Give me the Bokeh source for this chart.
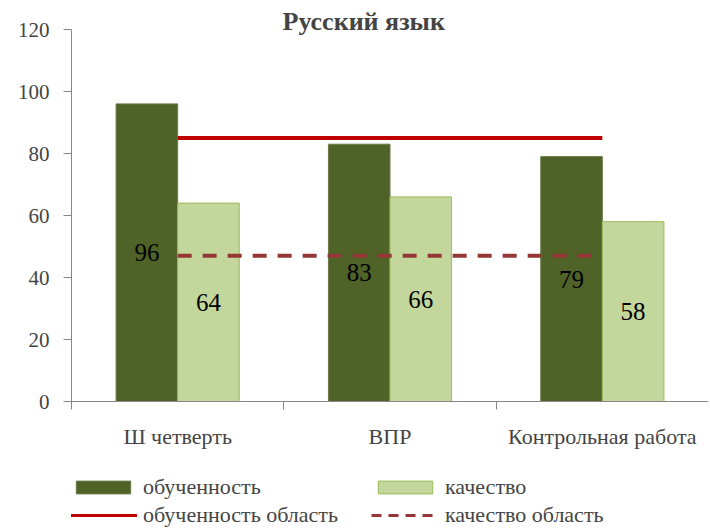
from bokeh.plotting import figure
from bokeh.layouts import column
from bokeh.models import Range1d, FixedTicker, Legend, LegendItem, ColumnDataSource
from bokeh.core.properties import value
from bokeh.embed import file_html
from bokeh.resources import INLINE

categories = ["Ш четверть", "ВПР", "Контрольная работа"]
obuchennost = [96, 83, 79]
kachestvo = [64, 66, 58]
obuchennost_oblast = [85, 85, 85]
kachestvo_oblast = [47, 47, 47]
y_ticks = [0, 20, 40, 60, 80, 100, 120]
series_names = ["обученность", "качество", "обученность область", "качество область"]

FONT = "Liberation Serif"
DARK = "#4F6228"
LIGHT = "#C3D69B"
RED = "#C00000"
DRED = "#953735"

n = len(categories)
centers = [i + 0.5 for i in range(n)]
bw = 0.29
off = 0.145

src = ColumnDataSource(dict(
    x1=[c - off for c in centers],
    x2=[c + off for c in centers],
    xc=centers,
    ob=obuchennost,
    ka=kachestvo,
    ob_half=[v / 2 for v in obuchennost],
    ka_half=[v / 2 for v in kachestvo],
    ob_txt=[str(v) for v in obuchennost],
    ka_txt=[str(v) for v in kachestvo],
    obr=obuchennost_oblast,
    kar=kachestvo_oblast,
))

p = figure(width=708, height=470, output_backend="svg", toolbar_location=None,
           x_range=Range1d(0, n), y_range=Range1d(0, 120),
           min_border_left=71, min_border_right=0, min_border_top=29, min_border_bottom=69)
p.outline_line_color = None
p.xgrid.grid_line_color = None
p.ygrid.grid_line_color = None

p.title.text = "Русский язык"
p.title.text_font = FONT
p.title.text_font_size = "26px"
p.title.text_font_style = "bold"
p.title.align = "left"
p.title.offset = 211
p.title.standoff = -13

p.vbar(x="x1", top="ob", width=bw, source=src, fill_color=DARK, line_color="#6a7c48", line_width=1)
p.vbar(x="x2", top="ka", width=bw, source=src, fill_color=LIGHT, line_color="#9BBB59", line_width=1)
p.line(x="xc", y="obr", source=src, line_color=RED, line_width=4)
p.line(x="xc", y="kar", source=src, line_color=DRED, line_width=4, line_dash="14 11")

p.text(x="x1", y="ob_half", text="ob_txt", source=src, text_align="center", text_baseline="middle",
       text_font=value(FONT), text_font_size="25px", text_color="black")
p.text(x="x2", y="ka_half", text="ka_txt", source=src, text_align="center", text_baseline="middle",
       text_font=value(FONT), text_font_size="25px", text_color="black")

ya = p.yaxis[0]
ya.ticker = FixedTicker(ticks=y_ticks, minor_ticks=[])
ya.axis_line_color = "#868686"
ya.major_tick_line_color = "#868686"
ya.major_tick_out = 8
ya.major_tick_in = 0
ya.minor_tick_line_color = None
ya.major_label_text_font = FONT
ya.major_label_text_font_size = "21px"
ya.major_label_standoff = 14

xa = p.xaxis[0]
xa.ticker = FixedTicker(ticks=centers, minor_ticks=list(range(n + 1)))
xa.major_label_overrides = {c: cat for c, cat in zip(centers, categories)}
xa.axis_line_color = "#868686"
xa.major_tick_line_color = None
xa.major_tick_out = 6
xa.minor_tick_line_color = "#868686"
xa.minor_tick_out = 8
xa.minor_tick_in = 0
xa.major_label_text_font = FONT
xa.major_label_text_font_size = "22px"
xa.major_label_standoff = 14

# legend strip (renderers hidden; only their legend swatches are shown)
lf = figure(width=708, height=58, output_backend="svg", toolbar_location=None,
            x_axis_type=None, y_axis_type=None, min_border=0,
            x_range=Range1d(0, n), y_range=Range1d(0, 120))
lf.outline_line_color = None
lf.xgrid.grid_line_color = None
lf.ygrid.grid_line_color = None
g1 = lf.vbar(x="x1", top="ob", width=bw, source=src, fill_color=DARK, line_color="#6a7c48", visible=False)
g2 = lf.vbar(x="x2", top="ka", width=bw, source=src, fill_color=LIGHT, line_color="#9BBB59", visible=False)
g3 = lf.line(x="xc", y="obr", source=src, line_color=RED, line_width=3, visible=False)
g4 = lf.line(x="xc", y="kar", source=src, line_color=DRED, line_width=3, line_dash="10 7", visible=False)

legend = Legend(items=[LegendItem(label=s, renderers=[g]) for s, g in zip(series_names, [g1, g2, g3, g4])],
                orientation="horizontal", ncols=2)
legend.glyph_width = 68
legend.glyph_height = 16
legend.label_standoff = 6
legend.label_text_font = FONT
legend.label_text_font_size = "22px"
legend.label_height = 24
legend.label_width = 226
legend.spacing = 2
legend.padding = 0
legend.margin = 0
legend.border_line_color = None
legend.background_fill_alpha = 0
legend.inactive_fill_alpha = 0
legend.location = (-2, 0)
lf.add_layout(legend, "center")

layout = column(p, lf, spacing=0)
open("out.html", "w").write(file_html(layout, INLINE))
